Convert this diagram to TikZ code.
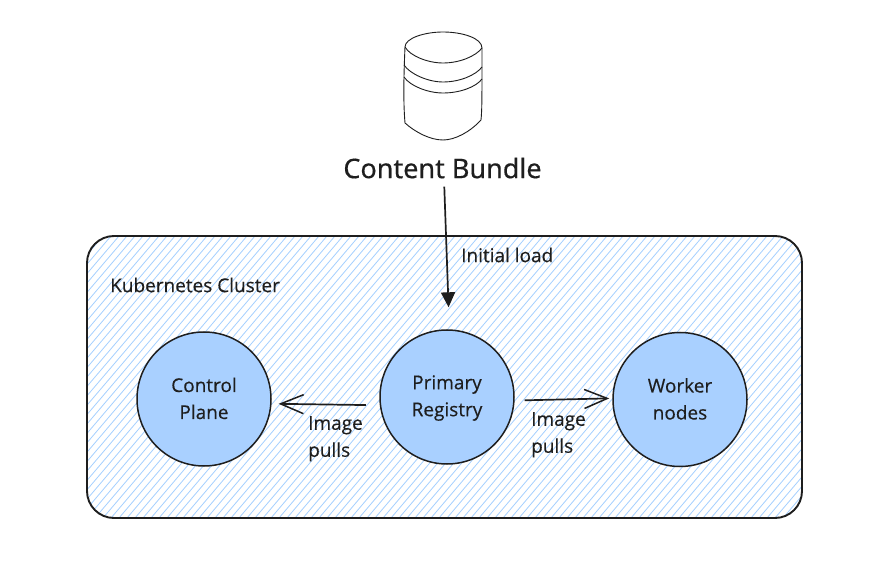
\documentclass[tikz,border=0pt]{standalone}
\usepackage{fontspec}
\setmainfont[RawFeature={embolden=0.35}]{Open Sans}
\newfontfamily\titlefont[RawFeature={embolden=0.4}]{Noto Sans}
\usetikzlibrary{arrows.meta}
\definecolor{ink}{HTML}{1E1E1E}
\definecolor{hatch}{HTML}{A5D0FF}
\definecolor{disc}{HTML}{A9D0FF}
\newcommand{\hs}{\rule[-3pt]{0pt}{19pt}}
\tikzset{
  x=1pt,y=-1pt,
  frame/.style={draw=ink,line width=1.9pt,rounded corners=27pt},
  hub/.style={circle,draw=ink,fill=disc,line width=1.5pt,minimum size=134pt,inner sep=0pt,align=center,font=\fontsize{19}{27}\selectfont,text=ink},
  lbl/.style={font=\fontsize{19}{27}\selectfont,text=ink,align=left,inner sep=0pt},
  sketch/.style={draw=ink,line width=0.9pt,line join=round},
  conn/.style={draw=ink,line width=1.7pt},
  openhead/.style={-{Straight Barb[length=23pt,width=19pt,line width=1.5pt]}},
  solidhead/.style={-{Triangle[length=15pt,width=14pt]}},
}
\begin{document}
\begin{tikzpicture}
\useasboundingbox (0,0) rectangle (887,569);
\fill[white] (0,0) rectangle (887,569);
\begin{scope}
  \clip[rounded corners=27pt] (87,236) rectangle (802,518);
  \foreach \k in {0,...,125}{
    \draw[hatch,line width=0.8pt] ({87+8*\k-240},518) -- ({87+8*\k},236);
  }
\end{scope}
\path[frame] (87,236) rectangle (802,518);
% cylinder
\path[sketch,fill=white] (405,47) .. controls (405,38) and (425,32) .. (443,32)
  .. controls (462,32) and (482,38) .. (482,48)
  .. controls (482,100) and (482,110) .. (481,120)
  .. controls (470,132) and (455,140) .. (443,140)
  .. controls (430,140) and (415,132) .. (405,123)
  .. controls (403,100) and (404,70) .. (405,47) -- cycle;
\path[sketch] (405,47) .. controls (410,56) and (428,63) .. (443,63) .. controls (460,63) and (476,56) .. (482,48);
\path[sketch] (404,65) .. controls (410,74) and (428,82) .. (443,82) .. controls (460,82) and (476,75) .. (482,67);
\path[sketch] (404,77) .. controls (410,86) and (428,93) .. (443,93) .. controls (460,93) and (476,87) .. (482,79);
\node[inner sep=0pt,text=ink,font=\titlefont\fontsize{27}{30}\selectfont] (bundle) at (442.5,168) {Content Bundle};
\node[lbl,anchor=west] (load) at (461,255) {Initial load};
\node[lbl,anchor=west] (cluster) at (110,285) {Kubernetes Cluster};
\node[hub] (control) at (204,399) {Control\hs\\Plane\hs};
\node[hub] (primary) at (447,397) {Primary\hs\\Registry\hs};
\node[hub] (worker) at (680,399.5) {Worker\hs\\nodes\hs};
\node[lbl,anchor=north west] (pullsl) at (308,416) {Image\\pulls};
\node[lbl,anchor=north west] (pullsr) at (531,412) {Image\\pulls};
\draw[conn,solidhead,shorten <=8pt,shorten >=22pt] (bundle.south) ++(1.5,0) coordinate (bs) (bs) -- (primary.88);
\draw[conn,openhead,shorten <=14pt,shorten >=7pt] (primary.187) -- (control.-4);
\draw[conn,openhead,shorten <=10pt,shorten >=3pt] (primary.-3) -- (worker.179);
\end{tikzpicture}
\end{document}
